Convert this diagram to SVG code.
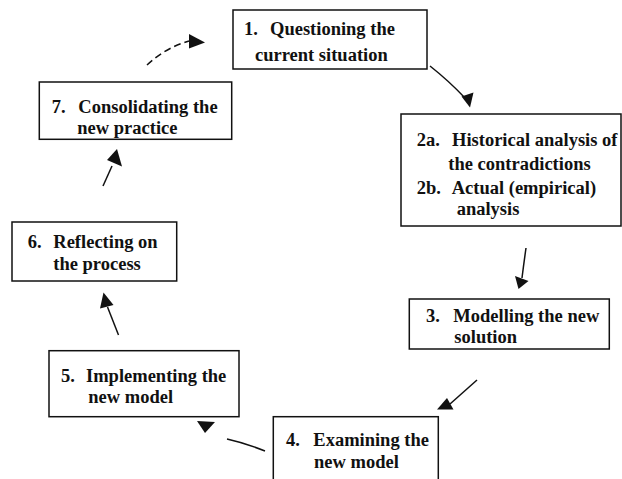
<svg xmlns="http://www.w3.org/2000/svg" width="622" height="479" viewBox="0 0 622 479">
<style>
.box{fill:#fff;stroke:#111;stroke-width:1.5}
.t{font-family:"Liberation Serif","Times New Roman",serif;font-weight:bold;font-size:18.5px;fill:#111}
.ln{fill:none;stroke:#111;stroke-width:1.5}
.dash{stroke-dasharray:7 4}
.hd{fill:#111;stroke:none}
</style>
<rect width="622" height="479" fill="#fff"/>
<g id="connectors">
<path class="ln dash" d="M147,65 Q165,48 189,41"/>
<polygon class="hd" points="205,42.5 189,34 189,48.5"/>
<path class="ln" d="M430,66 Q449,81 465,98"/>
<polygon class="hd" points="470,107.5 461.5,96.5 473.5,92.5"/>
<path class="ln" d="M526,248 Q524,262 522,278"/>
<polygon class="hd" points="518.5,289 515,276 528.5,281"/>
<path class="ln" d="M477,380 L450,404"/>
<polygon class="hd" points="437,409.5 447,398 453.5,409.5"/>
<path class="ln" d="M265,451 Q245,443 227,439"/>
<polygon class="hd" points="197,421 215,422 205,433"/>
<path class="ln" d="M118.5,335 L107.5,307"/>
<polygon class="hd" points="103.5,292.5 100,308.5 113.5,305"/>
<path class="ln" d="M103,186 L112,166"/>
<polygon class="hd" points="117,149 107,160 122,166.5"/>
</g>
<g id="node1">
<rect class="box" x="233" y="10" width="194" height="59"/>
<text class="t"><tspan x="244" y="35">1.</tspan><tspan x="270" y="35">Questioning the</tspan><tspan x="255" y="61">current situation</tspan></text>
</g>
<g id="node2">
<rect class="box" x="401" y="114" width="220" height="112"/>
<text class="t"><tspan x="416.7" y="145.7">2a.</tspan><tspan x="452" y="145.7">Historical analysis of</tspan><tspan x="448.3" y="170">the contradictions</tspan><tspan x="416.7" y="194.3">2b.</tspan><tspan x="451.7" y="194.3">Actual (empirical)</tspan><tspan x="456.7" y="215">analysis</tspan></text>
</g>
<g id="node3">
<rect class="box" x="409.3" y="299" width="200" height="50"/>
<text class="t"><tspan x="426" y="322">3.</tspan><tspan x="453.3" y="322">Modelling the new</tspan><tspan x="454.3" y="343">solution</tspan></text>
</g>
<g id="node4">
<rect class="box" x="273.3" y="416.7" width="165" height="70"/>
<text class="t"><tspan x="286" y="445.7">4.</tspan><tspan x="313.3" y="445.7">Examining the</tspan><tspan x="314" y="468.3">new model</tspan></text>
</g>
<g id="node5">
<rect class="box" x="49" y="350.7" width="190" height="66"/>
<text class="t"><tspan x="61" y="381.7">5.</tspan><tspan x="86" y="381.7">Implementing the</tspan><tspan x="88.3" y="402.7">new model</tspan></text>
</g>
<g id="node6">
<rect class="box" x="12" y="222" width="164.7" height="59"/>
<text class="t"><tspan x="27.7" y="247.7">6.</tspan><tspan x="53.3" y="247.7">Reflecting on</tspan><tspan x="53.3" y="270">the process</tspan></text>
</g>
<g id="node7">
<rect class="box" x="39.3" y="82" width="192.4" height="57.3"/>
<text class="t"><tspan x="51.7" y="113.3">7.</tspan><tspan x="78.3" y="113.3">Consolidating the</tspan><tspan x="77.3" y="134">new practice</tspan></text>
</g>
</svg>
